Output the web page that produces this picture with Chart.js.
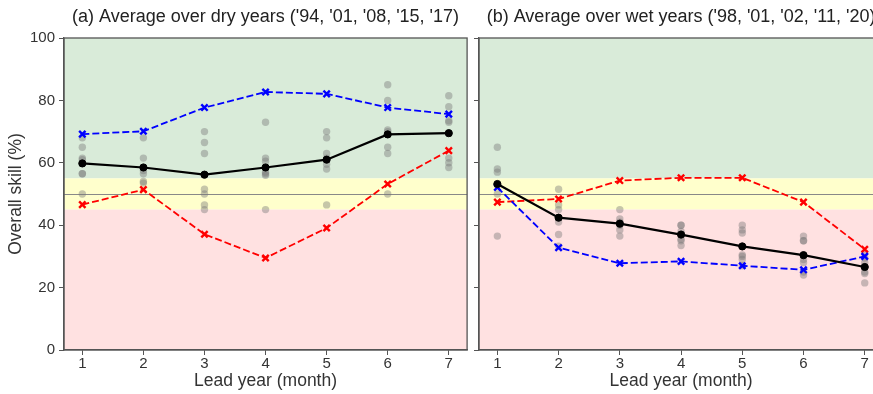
<!DOCTYPE html>
<html>
<head>
<meta charset="utf-8">
<script src="https://cdn.jsdelivr.net/npm/chart.js@4/dist/chart.umd.min.js"></script>
<style>
  body { margin: 0; overflow: hidden; background: #fff; }
  canvas { position: absolute; top: 0; }
</style>
</head>
<body>
<canvas id="dryChart" width="474" height="394" style="left:0"></canvas>
<canvas id="wetChart" width="419" height="394" style="left:471px"></canvas>
<script>
// lead years on the x axis
const leadYears = [1, 2, 3, 4, 5, 6, 7];
const skillTicks = [0, 20, 40, 60, 80, 100];

// skill zones: red below 45, yellow 45-55, green above 55
const zoneLow = 45;
const zoneHigh = 55;
const chanceLevel = 50;

// (a) dry years
const dryMean = [59.8, 58.5, 56.2, 58.5, 61.0, 69.1, 69.5];
const dryBlue = [69.2, 70.1, 77.7, 82.7, 82.1, 77.7, 75.6];
const dryRed  = [46.6, 51.4, 37.1, 29.5, 39.1, 53.2, 63.9];
const dryMembers = [
  [68, 65, 61.5, 61, 56.5, 56.5, 50],
  [68, 61.5, 58.5, 57.5, 56.5, 54, 53.5],
  [70, 66.5, 63, 51.5, 50, 46.5, 45],
  [73, 61.5, 60.5, 57, 56.5, 56, 45],
  [70, 68, 63, 61.5, 59.5, 58, 46.5],
  [85, 80, 70.5, 70, 65, 63, 50],
  [81.5, 78, 73.5, 73, 61.5, 60, 58.5]
];

// (b) wet years
const wetMean = [53.2, 42.4, 40.5, 37.0, 33.2, 30.4, 26.6];
const wetBlue = [52.1, 32.8, 27.8, 28.4, 27.0, 25.7, 30.0];
const wetRed  = [47.4, 48.4, 54.3, 55.2, 55.2, 47.4, 32.3];
const wetMembers = [
  [65, 58, 57, 53, 53, 50, 36.5],
  [51.5, 46.5, 45, 42.5, 41, 37, 33.3],
  [45, 42, 41, 40.5, 40, 38.5, 36.5],
  [40, 40, 38, 37, 35.5, 35, 33.5],
  [40, 38.5, 37.5, 30.5, 30, 29, 27],
  [36.5, 35, 35, 29, 28, 25, 24],
  [31, 29.5, 28, 26.5, 25, 24.5, 21.5]
];

const textColor = '#333';
const frameColor = '#555';

const zonePlugin = {
  id: 'zones',
  beforeDraw(chart) {
    const { ctx, chartArea: a, scales: { y } } = chart;
    const hi = y.getPixelForValue(zoneHigh);
    const lo = y.getPixelForValue(zoneLow);
    ctx.save();
    ctx.fillStyle = '#d9ebd9';
    ctx.fillRect(a.left, a.top, a.width, hi - a.top);
    ctx.fillStyle = '#ffffcc';
    ctx.fillRect(a.left, hi, a.width, lo - hi);
    ctx.fillStyle = '#ffe1e1';
    ctx.fillRect(a.left, lo, a.width, a.bottom - lo);
    ctx.restore();
  },
  beforeDatasetsDraw(chart) {
    const { ctx, chartArea: a, scales: { y } } = chart;
    const yc = Math.round(y.getPixelForValue(chanceLevel)) + 0.5;
    ctx.save();
    ctx.strokeStyle = '#888';
    ctx.lineWidth = 1;
    ctx.beginPath();
    ctx.moveTo(a.left, yc);
    ctx.lineTo(a.right, yc);
    ctx.stroke();
    ctx.restore();
  },
  afterDraw(chart) {
    const { ctx, chartArea: a } = chart;
    ctx.save();
    ctx.strokeStyle = frameColor;
    ctx.lineWidth = 1.3;
    ctx.strokeRect(a.left, a.top, a.width, a.height);
    ctx.restore();
  }
};

function makeChart(id, title, mean, blue, red, members, showY) {
  const memberPoints = [];
  members.forEach((vals, i) => vals.forEach(v => memberPoints.push({ x: leadYears[i], y: v })));
  const toXY = arr => arr.map((v, i) => ({ x: leadYears[i], y: v }));

  return new Chart(document.getElementById(id).getContext('2d'), {
    type: 'line',
    data: {
      datasets: [{
        data: memberPoints,
        showLine: false,
        pointRadius: 3.7,
        pointBorderWidth: 0,
        pointBackgroundColor: 'rgba(120,120,120,0.42)',
        order: 4
      }, {
        data: toXY(red),
        borderColor: '#ff0000',
        borderWidth: 1.8,
        borderDash: [7, 3],
        pointStyle: 'crossRot',
        pointRadius: 4.5,
        pointBorderWidth: 2.4,
        pointBorderColor: '#ff0000',
        order: 3
      }, {
        data: toXY(blue),
        borderColor: '#0000ff',
        borderWidth: 1.8,
        borderDash: [7, 3],
        pointStyle: 'crossRot',
        pointRadius: 4.5,
        pointBorderWidth: 2.4,
        pointBorderColor: '#0000ff',
        order: 2
      }, {
        data: toXY(mean),
        borderColor: '#000',
        borderWidth: 2.2,
        pointRadius: 3.6,
        pointBorderWidth: 1,
        pointBackgroundColor: '#000',
        pointBorderColor: '#000',
        order: 1
      }]
    },
    options: {
      responsive: false,
      animation: false,
      layout: { padding: { top: 0, right: 3, bottom: 0, left: 0 } },
      plugins: {
        legend: { display: false },
        tooltip: { enabled: false },
        title: {
          display: true,
          text: title,
          fullSize: false,
          color: '#222',
          font: { family: 'Liberation Sans', size: 18, weight: 'normal' },
          padding: { top: 6, bottom: 10.4 }
        }
      },
      scales: {
        x: {
          type: 'linear',
          min: 0.7,
          max: 7.3,
          afterBuildTicks: s => { s.ticks = leadYears.map(v => ({ value: v })); },
          afterFit: s => { s.height = 44; },
          grid: { drawOnChartArea: false, drawTicks: true, tickLength: 5, color: frameColor },
          border: { color: frameColor, width: 1.3 },
          ticks: { color: textColor, padding: 0, font: { family: 'Liberation Sans', size: 15 } },
          title: {
            display: true,
            text: 'Lead year (month)',
            color: textColor,
            font: { family: 'Liberation Sans', size: 17.5 },
            padding: { top: 0, bottom: 2 }
          }
        },
        y: {
          min: 0,
          max: 100,
          afterBuildTicks: s => { s.ticks = skillTicks.map(v => ({ value: v })); },
          afterFit: s => { s.width = showY ? 64 : 8; },
          grid: { drawOnChartArea: false, drawTicks: true, tickLength: 5, color: frameColor },
          border: { color: frameColor, width: 1.3 },
          ticks: { display: showY, color: textColor, padding: 4, font: { family: 'Liberation Sans', size: 15 } },
          title: {
            display: showY,
            text: 'Overall skill (%)',
            color: textColor,
            font: { family: 'Liberation Sans', size: 17.5 },
            padding: { top: 6, bottom: 0 }
          }
        }
      }
    },
    plugins: [zonePlugin]
  });
}

makeChart('dryChart', "(a) Average over dry years ('94, '01, '08, '15, '17)",
  dryMean, dryBlue, dryRed, dryMembers, true);
makeChart('wetChart', "(b) Average over wet years ('98, '01, '02, '11, '20)",
  wetMean, wetBlue, wetRed, wetMembers, false);
</script>
</body>
</html>
